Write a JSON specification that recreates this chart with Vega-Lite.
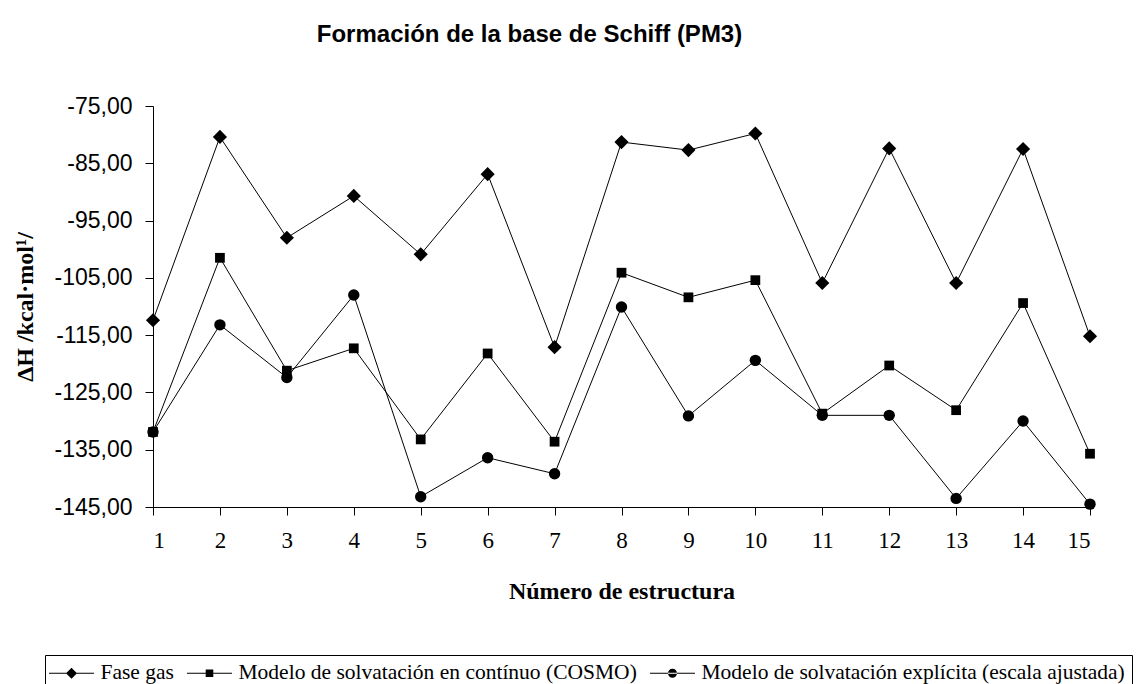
{
  "$schema": "https://vega.github.io/schema/vega-lite/v6.json",
  "autosize": {"type": "none"},
  "width": 937,
  "height": 401,
  "padding": {"left": 153, "top": 106, "right": 46, "bottom": 177},
  "background": "white",
  "title": {
    "text": "Formación de la base de Schiff (PM3)",
    "font": "Liberation Sans",
    "fontSize": 24,
    "fontWeight": "bold",
    "color": "black",
    "anchor": "middle",
    "frame": "group",
    "dx": -92,
    "offset": 48
  },
  "config": {
    "view": {"stroke": null},
    "axis": {"domainColor": "black", "tickColor": "black", "labelColor": "black", "titleColor": "black", "grid": false, "tickSize": 8}
  },
  "data": {
    "values": [
      {"x": 1, "serie": "Fase gas", "v": -112.4},
      {"x": 2, "serie": "Fase gas", "v": -80.4},
      {"x": 3, "serie": "Fase gas", "v": -98.0},
      {"x": 4, "serie": "Fase gas", "v": -90.7},
      {"x": 5, "serie": "Fase gas", "v": -100.9},
      {"x": 6, "serie": "Fase gas", "v": -86.9},
      {"x": 7, "serie": "Fase gas", "v": -117.1},
      {"x": 8, "serie": "Fase gas", "v": -81.3},
      {"x": 9, "serie": "Fase gas", "v": -82.7},
      {"x": 10, "serie": "Fase gas", "v": -79.8},
      {"x": 11, "serie": "Fase gas", "v": -105.9},
      {"x": 12, "serie": "Fase gas", "v": -82.4},
      {"x": 13, "serie": "Fase gas", "v": -105.9},
      {"x": 14, "serie": "Fase gas", "v": -82.5},
      {"x": 15, "serie": "Fase gas", "v": -115.2},
      {"x": 1, "serie": "Modelo de solvatación en contínuo (COSMO)", "v": -131.9},
      {"x": 2, "serie": "Modelo de solvatación en contínuo (COSMO)", "v": -101.5},
      {"x": 3, "serie": "Modelo de solvatación en contínuo (COSMO)", "v": -121.2},
      {"x": 4, "serie": "Modelo de solvatación en contínuo (COSMO)", "v": -117.3},
      {"x": 5, "serie": "Modelo de solvatación en contínuo (COSMO)", "v": -133.2},
      {"x": 6, "serie": "Modelo de solvatación en contínuo (COSMO)", "v": -118.2},
      {"x": 7, "serie": "Modelo de solvatación en contínuo (COSMO)", "v": -133.6},
      {"x": 8, "serie": "Modelo de solvatación en contínuo (COSMO)", "v": -104.1},
      {"x": 9, "serie": "Modelo de solvatación en contínuo (COSMO)", "v": -108.4},
      {"x": 10, "serie": "Modelo de solvatación en contínuo (COSMO)", "v": -105.4},
      {"x": 11, "serie": "Modelo de solvatación en contínuo (COSMO)", "v": -128.7},
      {"x": 12, "serie": "Modelo de solvatación en contínuo (COSMO)", "v": -120.3},
      {"x": 13, "serie": "Modelo de solvatación en contínuo (COSMO)", "v": -128.1},
      {"x": 14, "serie": "Modelo de solvatación en contínuo (COSMO)", "v": -109.4},
      {"x": 15, "serie": "Modelo de solvatación en contínuo (COSMO)", "v": -135.7},
      {"x": 1, "serie": "Modelo de solvatación explícita (escala ajustada)", "v": -131.9},
      {"x": 2, "serie": "Modelo de solvatación explícita (escala ajustada)", "v": -113.2},
      {"x": 3, "serie": "Modelo de solvatación explícita (escala ajustada)", "v": -122.4},
      {"x": 4, "serie": "Modelo de solvatación explícita (escala ajustada)", "v": -108.0},
      {"x": 5, "serie": "Modelo de solvatación explícita (escala ajustada)", "v": -143.2},
      {"x": 6, "serie": "Modelo de solvatación explícita (escala ajustada)", "v": -136.4},
      {"x": 7, "serie": "Modelo de solvatación explícita (escala ajustada)", "v": -139.2},
      {"x": 8, "serie": "Modelo de solvatación explícita (escala ajustada)", "v": -110.1},
      {"x": 9, "serie": "Modelo de solvatación explícita (escala ajustada)", "v": -129.1},
      {"x": 10, "serie": "Modelo de solvatación explícita (escala ajustada)", "v": -119.4},
      {"x": 11, "serie": "Modelo de solvatación explícita (escala ajustada)", "v": -129.0},
      {"x": 12, "serie": "Modelo de solvatación explícita (escala ajustada)", "v": -129.0},
      {"x": 13, "serie": "Modelo de solvatación explícita (escala ajustada)", "v": -143.5},
      {"x": 14, "serie": "Modelo de solvatación explícita (escala ajustada)", "v": -130.0},
      {"x": 15, "serie": "Modelo de solvatación explícita (escala ajustada)", "v": -144.5}
    ]
  },
  "encoding": {
    "x": {
      "field": "x", "type": "quantitative",
      "scale": {"domain": [1, 15], "nice": false, "zero": false},
      "axis": {
        "title": "Número de estructura",
        "values": [1,2,3,4,5,6,7,8,9,10,11,12,13,14,15],
        "format": "d",
        "labelFont": "Liberation Serif", "labelFontSize": 23, "labelPadding": 14,
        "titleFont": "Liberation Serif", "titleFontSize": 24, "titleFontWeight": "bold", "titlePadding": 27
      }
    },
    "y": {
      "field": "v", "type": "quantitative",
      "scale": {"domain": [-145, -75], "nice": false, "zero": false},
      "axis": {
        "title": "ΔH /kcal·mol¹/",
        "values": [-145, -135, -125, -115, -105, -95, -85, -75],
        "labelExpr": "replace(replace(format(datum.value, '.2f'), '.', ','), '−', '-')",
        "labelFont": "Liberation Sans", "labelFontSize": 23, "labelPadding": 13,
        "titleFont": "Liberation Serif", "titleFontSize": 24, "titleFontWeight": "bold", "titlePadding": 16
      }
    }
  },
  "layer": [
    {
      "mark": {"type": "line", "color": "black", "strokeWidth": 1},
      "encoding": {"detail": {"field": "serie", "type": "nominal"}}
    },
    {
      "transform": [{"filter": "datum.serie == 'Fase gas'"}],
      "mark": {"type": "point", "filled": true, "color": "black", "opacity": 1, "shape": "diamond", "size": 200}
    },
    {
      "transform": [{"filter": "datum.serie == 'Modelo de solvatación en contínuo (COSMO)'"}],
      "mark": {"type": "point", "filled": true, "color": "black", "opacity": 1, "shape": "square", "size": 95}
    },
    {
      "transform": [{"filter": "datum.serie == 'Modelo de solvatación explícita (escala ajustada)'"}],
      "mark": {"type": "point", "filled": true, "color": "black", "opacity": 1, "shape": "circle", "size": 130}
    },
    {
      "transform": [{"filter": "datum.x < 0"}],
      "mark": {"type": "point", "filled": true, "color": "black", "opacity": 1},
      "encoding": {
        "shape": {
          "field": "serie", "type": "nominal",
          "scale": {
            "domain": ["Fase gas", "Modelo de solvatación en contínuo (COSMO)", "Modelo de solvatación explícita (escala ajustada)"],
            "range": [
              "M-2.25,-0.06H2.25V0.06H-2.25ZM0,-0.55L0.55,0L0,0.55L-0.55,0Z",
              "M-2.25,-0.06H2.25V0.06H-2.25ZM-0.38,-0.38H0.38V0.38H-0.38Z",
              "M-2.25,-0.06H2.25V0.06H-2.25ZM-0.45,0A0.45,0.45 0 1,0 0.45,0A0.45,0.45 0 1,0 -0.45,0Z"
            ]
          },
          "legend": {
            "title": null,
            "orient": "none",
            "direction": "horizontal",
            "legendX": -108,
            "legendY": 549,
            "strokeColor": "black",
            "padding": 7,
            "symbolSize": 400,
            "symbolFillColor": "black",
            "symbolOpacity": 1,
            "symbolOffset": 8.5,
            "labelOffset": 18,
            "columnPadding": 10,
            "labelFont": "Liberation Serif",
            "labelFontSize": 21.5,
            "labelColor": "black",
            "labelLimit": 0
          }
        }
      }
    }
  ]
}
